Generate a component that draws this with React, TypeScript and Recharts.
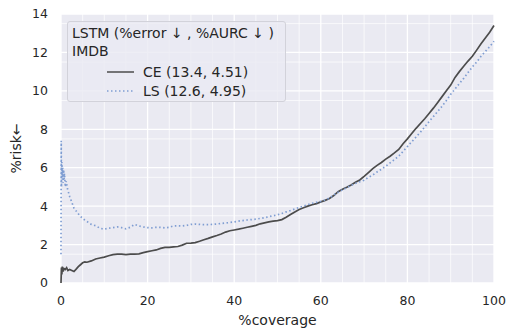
import React from "react";
import { LineChart, Line, XAxis, YAxis, CartesianGrid } from "recharts";

const FONT = "'DejaVu Sans', 'Liberation Sans', sans-serif";
const TEXT = "#262626";
const CE_COLOR = "#4c4c4c";
const LS_COLOR = "#7f9dd2";

const xTicks = [0, 20, 40, 60, 80, 100];
const yTicks = [0, 2, 4, 6, 8, 10, 12, 14];
const xMinor = [5, 10, 15, 25, 30, 35, 45, 50, 55, 65, 70, 75, 85, 90, 95];
const yMinor = [0.5, 1, 1.5, 2.5, 3, 3.5, 4.5, 5, 5.5, 6.5, 7, 7.5, 8.5, 9, 9.5, 10.5, 11, 11.5, 12.5, 13, 13.5];

const ceCoverage = [
  0, 0.1, 0.2, 0.3, 0.5, 0.7, 1, 1.3, 1.6, 2, 2.5, 3, 3.5, 4, 4.5, 5, 5.5, 6, 7, 8, 9,
  10, 11, 12, 13, 14, 15, 16, 17, 18, 19, 20, 21, 22, 23, 24, 25, 26, 27, 28, 29,
  30, 31, 32, 33, 34, 35, 36, 37, 38, 39, 40, 41, 42, 43, 44, 45, 46, 47, 48, 49,
  50, 51, 52, 53, 54, 55, 56, 57, 58, 59, 60, 61, 62, 63, 64, 65, 66, 67, 68, 69,
  70, 71, 72, 73, 74, 75, 76, 77, 78, 79, 80, 81, 82, 83, 84, 85, 86, 87, 88, 89,
  90, 91, 92, 93, 94, 95, 96, 97, 98, 99, 100,
];
const ceRisk = [
  0, 0.8, 0.45, 0.85, 0.6, 0.75, 0.7, 0.8, 0.65, 0.7, 0.65, 0.6, 0.72, 0.85, 0.95, 1.05, 1.1, 1.08, 1.15, 1.25, 1.3,
  1.35, 1.42, 1.48, 1.5, 1.5, 1.48, 1.5, 1.5, 1.52, 1.58, 1.63, 1.68, 1.72, 1.8, 1.85, 1.85, 1.88, 1.9, 1.97, 2.07,
  2.08, 2.1, 2.17, 2.25, 2.32, 2.4, 2.47, 2.55, 2.65, 2.72, 2.76, 2.8, 2.85, 2.9, 2.95, 3.0, 3.08, 3.13, 3.18, 3.22,
  3.25, 3.3, 3.42, 3.56, 3.7, 3.83, 3.92, 4.0, 4.07, 4.13, 4.22, 4.3, 4.4, 4.55, 4.75, 4.88, 4.98, 5.1, 5.24, 5.36,
  5.55, 5.75, 5.95, 6.12, 6.27, 6.45, 6.6, 6.77, 6.95, 7.25, 7.5, 7.78, 8.05, 8.3, 8.55, 8.82, 9.1, 9.4, 9.7, 10.0,
  10.3, 10.7, 11.0, 11.28, 11.55, 11.8, 12.12, 12.45, 12.75, 13.05, 13.4,
];

const lsCoverage = [
  0, 0.05, 0.1, 0.2, 0.3, 0.4, 0.5, 0.6, 0.7, 0.8, 1, 1.2, 1.5, 2, 2.5, 3, 3.5, 4, 5, 6, 7, 8, 9,
  10, 11, 12, 13, 14, 15, 16, 17, 18, 19, 20, 21, 22, 23, 24, 25, 26, 27, 28, 29,
  30, 31, 32, 33, 34, 35, 36, 37, 38, 39, 40, 41, 42, 43, 44, 45, 46, 47, 48, 49,
  50, 51, 52, 53, 54, 55, 56, 57, 58, 59, 60, 61, 62, 63, 64, 65, 66, 67, 68, 69,
  70, 71, 72, 73, 74, 75, 76, 77, 78, 79, 80, 81, 82, 83, 84, 85, 86, 87, 88, 89,
  90, 91, 92, 93, 94, 95, 96, 97, 98, 99, 100,
];
const lsRisk = [
  1.5, 7.4, 5.0, 6.3, 5.5, 6.0, 5.2, 5.9, 5.4, 5.7, 5.0, 5.3, 4.9, 4.5, 4.2, 3.9, 3.75, 3.6, 3.35, 3.2, 3.05, 2.98, 2.85,
  2.8, 2.85, 2.88, 2.92, 2.88, 2.82, 2.9, 3.05, 2.97, 2.92, 2.88, 2.87, 2.9, 2.9, 2.87, 2.9, 2.97, 2.98, 2.97, 3.0,
  3.05, 3.07, 3.05, 3.04, 3.04, 3.05, 3.07, 3.1, 3.12, 3.15, 3.18, 3.22, 3.25, 3.28, 3.3, 3.32, 3.36, 3.4, 3.45, 3.5,
  3.55, 3.62, 3.7, 3.77, 3.85, 3.93, 4.0, 4.08, 4.15, 4.2, 4.25, 4.32, 4.42, 4.58, 4.72, 4.85, 4.96, 5.08, 5.18, 5.27,
  5.35, 5.5, 5.62, 5.78, 5.92, 6.08, 6.25, 6.42, 6.6, 6.85, 7.1, 7.35, 7.6, 7.85, 8.12, 8.4, 8.66, 8.93, 9.2, 9.5,
  9.82, 10.1, 10.38, 10.65, 10.95, 11.25, 11.5, 11.8, 12.05, 12.3, 12.58,
];

const legendTitle = ["LSTM (%error ↓ , %AURC ↓ )", "IMDB"];
const legendItems = ["CE (13.4, 4.51)", "LS (12.6, 4.95)"];

const ceData = ceCoverage.map((c, i) => ({ coverage: c, risk: ceRisk[i] }));
const lsData = lsCoverage.map((c, i) => ({ coverage: c, risk: lsRisk[i] }));

export default function App() {
  const tick = { fill: TEXT, fontSize: 12.5, fontFamily: FONT };
  return (
    <div style={{ position: "absolute", left: 0, top: 0, width: 507, height: 329, background: "#fff", fontFamily: FONT }}>
      <LineChart width={507} height={329} margin={{ top: 14, right: 13, left: 0, bottom: 0 }}>
        {/* minor grid, then major grid on top */}
        <CartesianGrid
          fill="#EAEAF2"
          stroke="#ffffff"
          strokeWidth={0.7}
          horizontalValues={yMinor}
          verticalValues={xMinor}
        />
        <CartesianGrid stroke="#ffffff" strokeWidth={1.3} horizontalValues={yTicks} verticalValues={xTicks} />
        <XAxis
          type="number"
          dataKey="coverage"
          domain={[0, 100]}
          ticks={xTicks}
          axisLine={false}
          tickLine={false}
          tickSize={0}
          tickMargin={13}
          tick={tick}
          height={46}
          allowDuplicatedCategory={false}
          label={{ value: "%coverage", position: "insideBottom", offset: 4, fill: TEXT, fontSize: 14, fontFamily: FONT }}
        />
        <YAxis
          type="number"
          dataKey="risk"
          domain={[0, 14]}
          ticks={yTicks}
          axisLine={false}
          tickLine={false}
          tickSize={0}
          tickMargin={13}
          tick={tick}
          width={61}
          label={{ value: "%risk←", angle: -90, position: "insideLeft", offset: 16, fill: TEXT, fontSize: 14, fontFamily: FONT, style: { textAnchor: "middle" } }}
        />
        <Line
          data={ceData}
          dataKey="risk"
          type="linear"
          stroke={CE_COLOR}
          strokeWidth={1.7}
          dot={false}
          isAnimationActive={false}
        />
        <Line
          data={lsData}
          dataKey="risk"
          type="linear"
          stroke={LS_COLOR}
          strokeWidth={1.7}
          strokeDasharray="1.5 2.5"
          dot={false}
          isAnimationActive={false}
        />
      </LineChart>
      <div
        style={{
          position: "absolute",
          left: 67,
          top: 21,
          width: 219,
          height: 81,
          background: "rgba(234,234,242,0.8)",
          border: "1px solid #d2d2da",
          borderRadius: 3,
          boxSizing: "border-box",
          color: TEXT,
          fontSize: 14,
          lineHeight: "18px",
          padding: "2px 0 0 4px",
        }}
      >
        <div style={{ whiteSpace: "nowrap" }}>{legendTitle[0]}</div>
        <div>{legendTitle[1]}</div>
        {legendItems.map((name, i) => (
          <div key={name} style={{ display: "flex", alignItems: "center", height: 19, marginTop: i === 0 ? 2 : 0 }}>
            <svg width={71} height={10} style={{ flex: "none" }}>
              <line
                x1={35}
                x2={62}
                y1={5}
                y2={5}
                stroke={i === 0 ? CE_COLOR : LS_COLOR}
                strokeWidth={1.5}
                strokeDasharray={i === 0 ? undefined : "1.5 2.5"}
              />
            </svg>
            <span style={{ whiteSpace: "nowrap" }}>{name}</span>
          </div>
        ))}
      </div>
    </div>
  );
}
